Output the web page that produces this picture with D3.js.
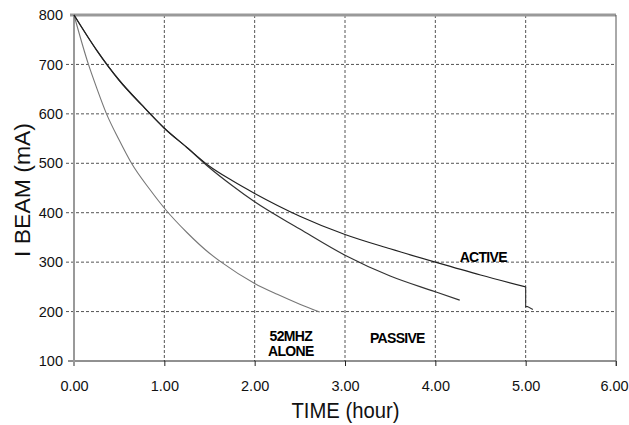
<!DOCTYPE html>
<html>
<head>
<meta charset="utf-8">
<script src="https://cdn.jsdelivr.net/npm/d3@7"></script>
<style>
  body { margin: 0; background: #fff; }
  text { font-family: "Liberation Sans", Arial, sans-serif; }
</style>
</head>
<body>
<script>
// beam current decay
var activeT  = [0, 0.25, 0.5, 0.75, 1, 1.25, 1.5, 1.75, 2, 2.5, 3, 3.5, 4, 4.5, 5];
var activeI  = [800, 729, 668, 618, 571, 532, 494, 465, 439, 393, 356, 327, 300, 274, 250];
// the drop at the very end of the active run
var activeTailT = [5.0, 5.0, 5.02, 5.08];
var activeTailI = [250, 210, 210, 204];

var passiveT = [0, 0.25, 0.5, 0.75, 1, 1.25, 1.5, 1.75, 2, 2.5, 3, 3.5, 4, 4.27];
var passiveI = [800, 729, 668, 618, 571, 532, 491, 455, 422, 367, 314, 272, 240, 223];

var aloneT = [0, 0.16, 0.25, 0.36, 0.5, 0.64, 0.84, 1.02, 1.25, 1.5, 1.63, 2.0, 2.25, 2.5, 2.72];
var aloneI = [800, 700, 653, 600, 547, 499, 447, 405, 360, 318, 300, 257, 235, 215, 199];

var xTicks = [0, 1, 2, 3, 4, 5, 6];
var yTicks = [100, 200, 300, 400, 500, 600, 700, 800];

// labels placed in data units
var labels = [
  {text: "ACTIVE",  t: 4.53, i: 301},
  {text: "PASSIVE", t: 3.58, i: 137},
  {text: "52MHZ",   t: 2.40, i: 140},
  {text: "ALONE",   t: 2.40, i: 111}
];

var W = 629, H = 425;
var margin = {top: 15, right: 13, bottom: 64, left: 74};

var svg = d3.select("body").append("svg")
    .attr("width", W)
    .attr("height", H);

var x = d3.scaleLinear().domain([0, 6]).range([margin.left, W - margin.right]);
var y = d3.scaleLinear().domain([100, 800]).range([H - margin.bottom, margin.top]);

function zip(ts, is) {
  return ts.map(function(t, k) { return {t: t, i: is[k]}; });
}

// gridlines (dashed)
svg.append("g").selectAll("line")
    .data(yTicks.filter(function(v) { return v > 100 && v < 800; }))
  .enter().append("line")
    .attr("x1", x(0) - 8).attr("x2", x(6))
    .attr("y1", function(d) { return y(d); })
    .attr("y2", function(d) { return y(d); })
    .attr("stroke", "#555")
    .attr("stroke-dasharray", "3,2");

svg.append("g").selectAll("line")
    .data(xTicks.filter(function(v) { return v > 0 && v < 6; }))
  .enter().append("line")
    .attr("x1", function(d) { return x(d); })
    .attr("x2", function(d) { return x(d); })
    .attr("y1", y(800)).attr("y2", y(100))
    .attr("stroke", "#555")
    .attr("stroke-dasharray", "3,2");

// bottom axis
var xAxis = d3.axisBottom(x)
    .tickValues(xTicks)
    .tickFormat(d3.format(".2f"))
    .tickSize(5)
    .tickSizeOuter(0);

var gx = svg.append("g")
    .attr("transform", "translate(0," + y(100) + ")")
    .call(xAxis);
gx.select(".domain").attr("stroke", "#222")
    .attr("d", "M" + (x(0) - 6) + ",0H" + x(6));
gx.selectAll(".tick line").attr("stroke", "#222");
gx.selectAll(".tick text")
    .attr("y", 20)
    .attr("fill", "#111")
    .style("font-size", "14.5px")
    .style("font-family", "Liberation Sans, Arial, sans-serif");
// keep the last label inside the page
gx.selectAll(".tick text").filter(function(d) { return d === 6; })
    .attr("dx", -2);

// left axis
var yAxis = d3.axisLeft(y)
    .tickValues(yTicks)
    .tickSize(0)
    .tickPadding(11);

var gy = svg.append("g")
    .attr("transform", "translate(" + x(0) + ",0)")
    .call(yAxis);
gy.select(".domain").remove();
gy.selectAll(".tick text")
    .attr("fill", "#111")
    .style("font-size", "14.5px")
    .style("font-family", "Liberation Sans, Arial, sans-serif");

// frame: thick gray top and left, thin dark right
svg.append("line")
    .attr("x1", x(0)).attr("x2", x(0))
    .attr("y1", y(800)).attr("y2", y(100) + 5)
    .attr("stroke", "#999").attr("stroke-width", 2);
svg.append("line")
    .attr("x1", x(0) - 4).attr("x2", x(6))
    .attr("y1", y(800)).attr("y2", y(800))
    .attr("stroke", "#999").attr("stroke-width", 3);
svg.append("line")
    .attr("x1", x(6)).attr("x2", x(6))
    .attr("y1", y(800)).attr("y2", y(100) + 5)
    .attr("stroke", "#555").attr("stroke-width", 1);

// curves
var line = d3.line()
    .x(function(d) { return x(d.t); })
    .y(function(d) { return y(d.i); })
    .curve(d3.curveMonotoneX);
var lineStraight = d3.line()
    .x(function(d) { return x(d.t); })
    .y(function(d) { return y(d.i); });

svg.append("path")
    .datum(zip(aloneT, aloneI))
    .attr("d", line)
    .attr("fill", "none").attr("stroke", "#777").attr("stroke-width", 1.1);

svg.append("path")
    .datum(zip(passiveT, passiveI))
    .attr("d", line)
    .attr("fill", "none").attr("stroke", "#333").attr("stroke-width", 1.2);

svg.append("path")
    .datum(zip(activeT, activeI))
    .attr("d", line)
    .attr("fill", "none").attr("stroke", "#222").attr("stroke-width", 1.2);

svg.append("path")
    .datum(zip(activeTailT, activeTailI))
    .attr("d", lineStraight)
    .attr("fill", "none").attr("stroke", "#333").attr("stroke-width", 1.1);

// curve labels
svg.append("g").selectAll("text")
    .data(labels)
  .enter().append("text")
    .attr("x", function(d) { return x(d.t); })
    .attr("y", function(d) { return y(d.i); })
    .attr("text-anchor", "middle")
    .style("font-size", "14px")
    .style("font-weight", "bold")
    .style("letter-spacing", "-0.7px")
    .attr("fill", "#000")
    .text(function(d) { return d.text; });

// axis titles
svg.append("text")
    .attr("x", 345.5).attr("y", 418)
    .attr("text-anchor", "middle")
    .attr("textLength", 108)
    .attr("lengthAdjust", "spacingAndGlyphs")
    .style("font-size", "22px")
    .attr("fill", "#111")
    .text("TIME (hour)");

svg.append("text")
    .attr("transform", "translate(30,190) rotate(-90)")
    .attr("text-anchor", "middle")
    .attr("textLength", 134)
    .attr("lengthAdjust", "spacingAndGlyphs")
    .style("font-size", "22px")
    .attr("fill", "#111")
    .text("I BEAM (mA)");
</script>
</body>
</html>
